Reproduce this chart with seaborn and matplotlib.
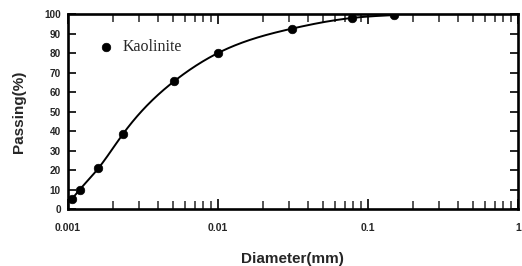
import numpy as np
import pandas as pd
import matplotlib
matplotlib.use("Agg")
import matplotlib.pyplot as plt
import seaborn as sns
from matplotlib.ticker import LogLocator, FixedLocator, NullFormatter, FixedFormatter

diameter = [0.00106, 0.0012, 0.0016, 0.00233, 0.0051, 0.0100, 0.031, 0.078, 0.15]
passing = [5, 10, 21, 38.5, 65.5, 80, 92.5, 98, 99.5]
series_name = "Kaolinite"
x_ticks = [0.001, 0.01, 0.1, 1]
x_ticklabels = ["0.001", "0.01", "0.1", "1"]
y_ticks = [0, 10, 20, 30, 40, 50, 60, 70, 80, 90, 100]

sns.set_style("ticks")
plt.rcParams['font.family'] = ['Liberation Sans', 'DejaVu Sans']

df = pd.DataFrame({"Diameter": diameter, "Passing": passing})

# smooth natural cubic spline through the measured points in log-x space
def natural_spline(x, y, xn):
    x = np.asarray(x, float); y = np.asarray(y, float)
    n = len(x); h = np.diff(x)
    A = np.zeros((n, n)); b = np.zeros(n)
    A[0, 0] = 1; A[-1, -1] = 1
    for i in range(1, n - 1):
        A[i, i - 1] = h[i - 1]; A[i, i] = 2 * (h[i - 1] + h[i]); A[i, i + 1] = h[i]
        b[i] = 3 * ((y[i + 1] - y[i]) / h[i] - (y[i] - y[i - 1]) / h[i - 1])
    c = np.linalg.solve(A, b)
    idx = np.clip(np.searchsorted(x, xn) - 1, 0, n - 2)
    bb = (y[1:] - y[:-1]) / h - h * (2 * c[:-1] + c[1:]) / 3
    d = (c[1:] - c[:-1]) / (3 * h)
    t = xn - x[idx]
    return y[idx] + bb[idx] * t + c[idx] * t**2 + d[idx] * t**3

lx = np.log10(diameter)
xs = np.linspace(lx[0], lx[-1], 400)
curve = pd.DataFrame({"Diameter": 10**xs, "Passing": natural_spline(lx, passing, xs)})

fig = plt.figure(figsize=(5.22, 2.66), dpi=100)
ax = fig.add_axes([0.130, 0.214, 0.862, 0.733])

sns.lineplot(data=curve, x="Diameter", y="Passing", ax=ax, color="black", lw=1.4)
sns.scatterplot(data=df, x="Diameter", y="Passing", ax=ax, color="black", s=38,
                edgecolor="black", zorder=5, label=series_name)

ax.set_xscale("log")
ax.set_xlim(0.001, 1)
ax.set_ylim(0, 100)
ax.xaxis.set_major_locator(FixedLocator(x_ticks))
ax.xaxis.set_major_formatter(FixedFormatter(x_ticklabels))
ax.xaxis.set_minor_locator(LogLocator(base=10, subs=np.arange(2, 10), numticks=20))
ax.xaxis.set_minor_formatter(NullFormatter())
ax.set_yticks(y_ticks)

for s in ax.spines.values():
    s.set_linewidth(1.9)
    s.set_color("black")

ax.tick_params(axis="y", which="major", direction="in", length=6, width=1.4,
               right=True, labelsize=7.2, pad=5)
ax.tick_params(axis="x", which="major", direction="in", length=7, width=1.4,
               top=True, labelsize=7.5, pad=10)
ax.tick_params(axis="x", which="minor", direction="in", length=6, width=1.1,
               top=True, bottom=True)
for lab in ax.get_xticklabels() + ax.get_yticklabels():
    lab.set_fontweight("bold")

ax.set_xlabel("Diameter(mm)", fontsize=11, fontweight="bold", labelpad=14)
ax.set_ylabel("Passing(%)", fontsize=11, fontweight="bold", labelpad=13)

leg = ax.legend(loc="upper left", bbox_to_anchor=(0.036, 0.905), frameon=False,
                prop={"family": "Liberation Serif", "size": 11.5},
                handletextpad=0.0, markerscale=1.0, borderaxespad=0)

fig.savefig("out.png", dpi=100)
